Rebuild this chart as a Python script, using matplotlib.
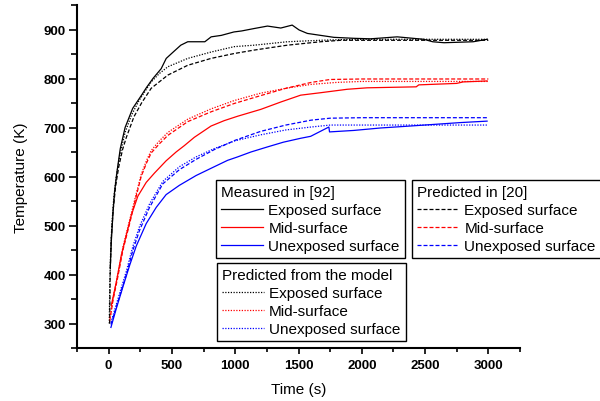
import matplotlib
matplotlib.use("Agg")
import matplotlib.pyplot as plt
from matplotlib.ticker import MultipleLocator

plt.rcParams['font.family'] = ['Liberation Sans', 'DejaVu Sans']

# ---- data ----
# Measured in [92]
t_meas_exp = [13, 21, 35, 47, 66, 92, 130, 190, 260, 300, 350, 415, 455, 510, 570, 625, 760, 810, 890, 990,
              1050, 1150, 1255, 1360, 1450, 1505, 1570, 1675, 1780, 1940, 2070, 2280, 2490, 2560, 2650, 2880, 2990]
T_meas_exp = [414, 467, 528, 569, 610, 657, 700, 739, 766, 782, 800, 820, 841, 854, 868, 875, 875, 885, 888, 895,
              897, 902, 907, 903, 909, 899, 892, 888, 884, 882, 881, 885, 880, 875, 873, 875, 880]
t_meas_mid = [21, 61, 100, 139, 179, 231, 297, 362, 454, 533, 598, 677, 809, 913, 1019, 1202, 1360, 1517, 1675,
              1885, 2043, 2430, 2450, 2750, 2800, 2990]
T_meas_mid = [337, 385, 439, 480, 521, 560, 588, 607, 632, 650, 663, 680, 703, 714, 723, 737, 752, 766, 771,
              778, 781, 783, 787, 790, 793, 795]
t_meas_une = [18, 61, 113, 165, 218, 297, 376, 454, 559, 691, 835, 940, 1019, 1124, 1250, 1380, 1517, 1596,
              1740, 1745, 1937, 2147, 2383, 2777, 2990]
T_meas_une = [292, 331, 375, 418, 458, 504, 537, 563, 582, 602, 620, 633, 640, 650, 660, 670, 678, 682,
              701, 691, 694, 699, 703, 710, 713]

# Predicted in [20]
t_pred_exp = [8, 12, 20, 35, 55, 80, 110, 140, 200, 260, 336, 468, 625, 809, 992, 1150, 1412, 1675, 1833, 3000]
T_pred_exp = [300, 400, 470, 530, 580, 620, 655, 680, 722, 750, 780, 807, 827, 841, 851, 858, 868, 875, 878, 878]
t_pred_mid = [8, 35, 74, 113, 165, 218, 257, 300, 336, 402, 468, 625, 809, 992, 1200, 1400, 1600, 1750, 2000, 3000]
T_pred_mid = [305, 348, 397, 450, 503, 560, 600, 628, 648, 667, 684, 712, 732, 749, 765, 780, 792, 798, 799, 799]
t_pred_une = [18, 87, 139, 192, 244, 323, 428, 559, 691, 835, 1000, 1200, 1400, 1600, 1750, 2000, 3000]
T_pred_une = [298, 356, 399, 450, 490, 537, 585, 614, 635, 655, 674, 692, 705, 715, 719, 720, 720]

# Predicted from the model
t_mod_exp = [5, 9, 15, 25, 40, 60, 90, 130, 180, 240, 336, 400, 468, 625, 809, 992, 1150, 1412, 1675, 1937, 3000]
T_mod_exp = [300, 380, 440, 500, 555, 600, 645, 690, 725, 755, 793, 810, 824, 841, 854, 865, 868, 875, 878, 880, 880]
t_mod_mid = [12, 35, 74, 113, 165, 218, 257, 300, 336, 402, 468, 625, 809, 992, 1200, 1400, 1600, 1800, 2000, 3000]
T_mod_mid = [312, 352, 402, 456, 510, 565, 604, 633, 653, 673, 690, 717, 738, 755, 770, 780, 788, 792, 794, 794]
t_mod_une = [18, 87, 139, 192, 244, 323, 428, 559, 691, 835, 1000, 1200, 1400, 1600, 1750, 3000]
T_mod_une = [302, 362, 406, 458, 498, 544, 590, 620, 640, 657, 673, 685, 695, 701, 705, 705]

labels = ["Exposed surface", "Mid-surface", "Unexposed surface"]
colors = ["black", "red", "blue"]

# ---- figure ----
fig = plt.figure(figsize=(6.0, 4.02), dpi=100)
ax = fig.add_axes([77/600, 1-349/402, (520-77)/600, (349-6)/402])

lw = 0.9
dash = (0, (3.2, 1.6))
dot = (0, (1.0, 1.2))

meas = [ax.plot(t, T, color=c, lw=lw, ls='-')[0] for t, T, c in
        zip([t_meas_exp, t_meas_mid, t_meas_une], [T_meas_exp, T_meas_mid, T_meas_une], colors)]
pred = [ax.plot(t, T, color=c, lw=lw, ls=dash)[0] for t, T, c in
        zip([t_pred_exp, t_pred_mid, t_pred_une], [T_pred_exp, T_pred_mid, T_pred_une], colors)]
mod = [ax.plot(t, T, color=c, lw=lw, ls=dot)[0] for t, T, c in
       zip([t_mod_exp, t_mod_mid, t_mod_une], [T_mod_exp, T_mod_mid, T_mod_une], colors)]

ax.set_xlim(-250, 3250)
ax.set_ylim(250, 950)
ax.xaxis.set_minor_locator(MultipleLocator(250))
ax.yaxis.set_minor_locator(MultipleLocator(50))
ax.set_xticks([0, 500, 1000, 1500, 2000, 2500, 3000])
ax.set_yticks([300, 400, 500, 600, 700, 800, 900])

for s in ['top', 'right']:
    ax.spines[s].set_visible(False)
for s in ['left', 'bottom']:
    ax.spines[s].set_linewidth(1.5)

ax.tick_params(axis='x', which='major', direction='out', length=4, width=1.2, pad=4)
ax.tick_params(axis='x', which='minor', direction='out', length=3, width=1.2)
ax.tick_params(axis='y', which='major', direction='out', length=6, width=1.2, pad=2)
ax.tick_params(axis='y', which='minor', direction='out', length=4, width=1.2)
for lab in ax.get_xticklabels() + ax.get_yticklabels():
    lab.set_fontweight('bold')
    lab.set_fontsize(9.5)

ax.set_xlabel("Time (s)", fontsize=11, labelpad=8)
ax.set_ylabel("Temperature (K)", fontsize=11, labelpad=11)

leg_kw = dict(loc='upper left', bbox_transform=fig.transFigure, fontsize=11, title_fontsize=11,
              frameon=True, fancybox=False, edgecolor='black', framealpha=1, borderaxespad=0,
              handlelength=2.75, handletextpad=0.35, labelspacing=0.27, borderpad=0.32,
              alignment='left')

leg1 = fig.legend(meas, labels, title="Measured in [92]", bbox_to_anchor=(216/600, 1-181/402), **leg_kw)
leg2 = fig.legend(pred, labels, title="Predicted in [20]", bbox_to_anchor=(412/600, 1-181/402), **leg_kw)
leg3 = fig.legend(mod, labels, title="Predicted from the model", bbox_to_anchor=(217/600, 1-264/402), **leg_kw)
for lg in (leg1, leg2, leg3):
    lg.get_frame().set_linewidth(1.0)
    lg.get_title().set_fontsize(11)

fig.savefig("out.png", dpi=100)
